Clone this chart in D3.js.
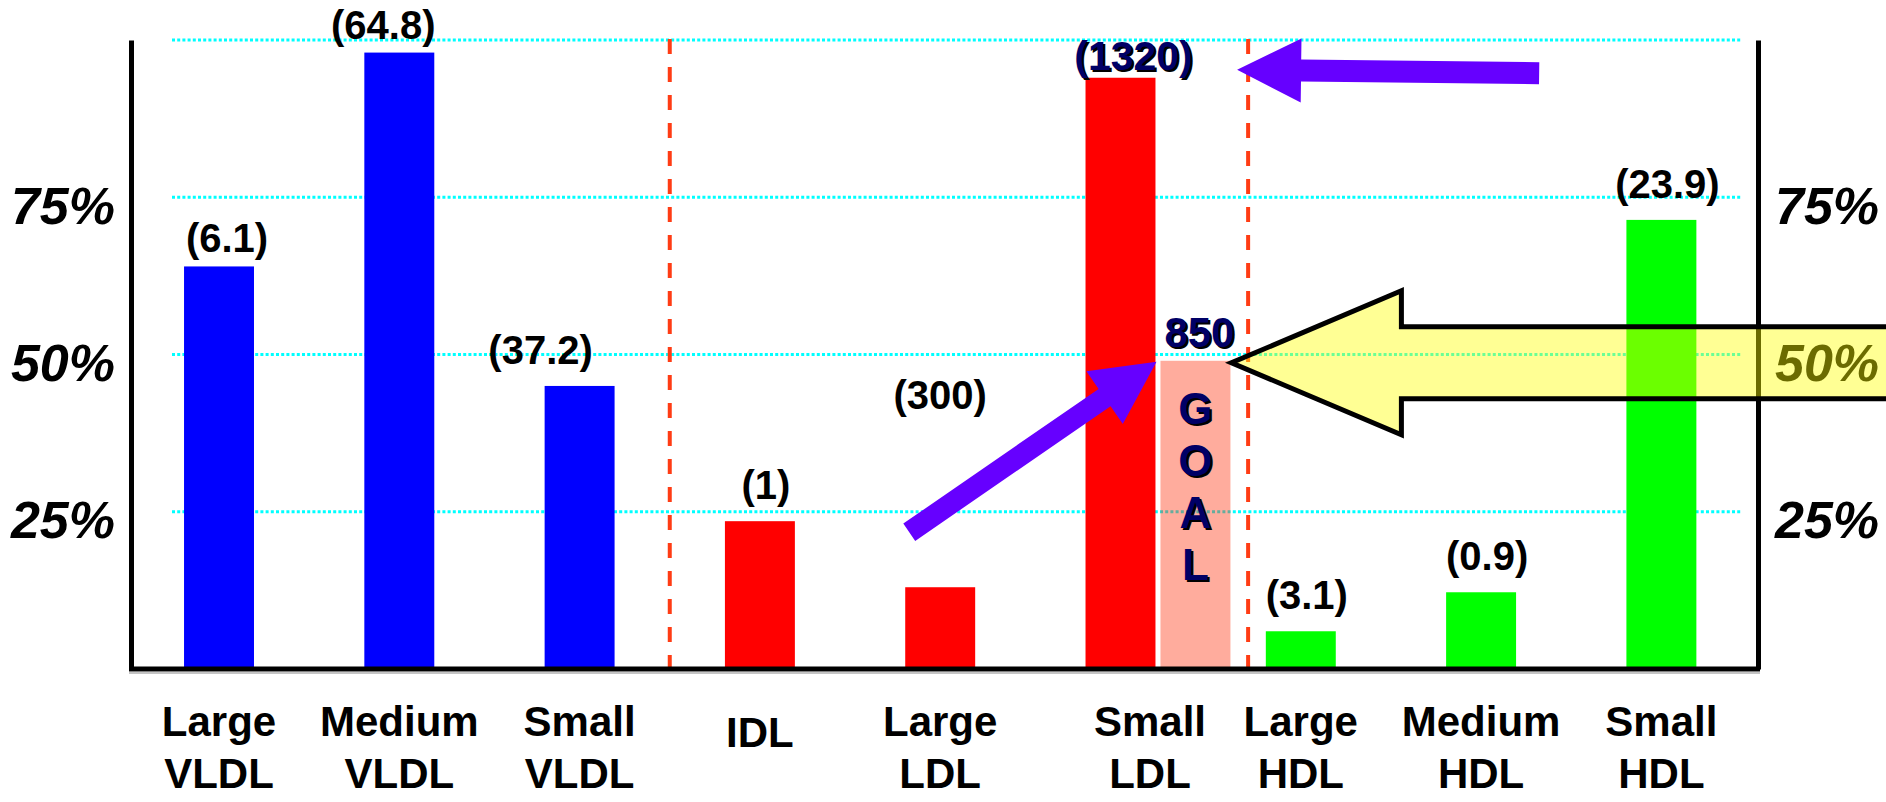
<!DOCTYPE html>
<html>
<head>
<meta charset="utf-8">
<script src="https://cdn.jsdelivr.net/npm/d3@7"></script>
<style>
  html, body { margin: 0; padding: 0; background: #ffffff; }
  svg { display: block; font-family: "Liberation Sans", Arial, sans-serif; }
</style>
</head>
<body>
<svg id="chart" width="1886" height="802"></svg>
<script>
// Lipoprotein subclass profile: bar height = population percentile,
// bracketed number = measured concentration.
const categories = ["Large VLDL", "Medium VLDL", "Small VLDL", "IDL", "Large LDL", "Small LDL", "Large HDL", "Medium HDL", "Small HDL"];
const lipoClass = ["VLDL", "VLDL", "VLDL", "LDL", "LDL", "LDL", "HDL", "HDL", "HDL"];
const percentile = [64, 98, 45, 23.5, 13, 94, 6, 12.2, 71.4];
const concentration = [6.1, 64.8, 37.2, 1, 300, 1320, 3.1, 0.9, 23.9];
const goalCategory = "Small LDL";
const goalPercentile = 49;
const goalValue = 850;
const goalLetters = ["G", "O", "A", "L"];
const percentTicks = [25, 50, 75];
const gridTicks = [25, 50, 75, 100];

// ---- styling / layout ----
const W = 1886, H = 802;
const plot = { left: 131, right: 1758, top: 40, bottom: 669 };
const classColors = { VLDL: "#0000ff", LDL: "#ff0000", HDL: "#00ff00" };
const navy = "#000066";
const purple = "#6600ff";
const dividerColor = "#ff3c14";
const goalFill = "rgb(255,47,10)";

// per-label nudges for the bracketed concentration labels
const labelNudge = {
  "Large VLDL": { dx: 8, dy: 8 },
  "Medium VLDL": { dx: -16, dy: 8 },
  "Small VLDL": { dx: -39, dy: 0 },
  "Large LDL": { dx: 0, dy: -156 },
  "Small LDL": { dx: 13, dy: 14 }
};

const svg = d3.select("#chart");
svg.append("rect").attr("width", W).attr("height", H).attr("fill", "#ffffff");

const x = d3.scaleBand()
  .domain(categories)
  .range([plot.left, plot.right])
  .paddingInner(0.612)
  .paddingOuter(0.318)
  .align(0.4625);
const bw = x.bandwidth();

const y = d3.scaleLinear().domain([0, 100]).range([plot.bottom, plot.top]);

const rows = categories.map((c, i) => ({
  name: c, cls: lipoClass[i], pct: percentile[i], value: concentration[i]
}));

// ---- dotted gridlines ----
svg.append("g").selectAll("line")
  .data(gridTicks)
  .join("line")
  .attr("x1", plot.left + 41)
  .attr("x2", plot.right - 16)
  .attr("y1", d => y(d))
  .attr("y2", d => y(d))
  .attr("stroke", "#00ffff")
  .attr("stroke-width", 3)
  .attr("stroke-dasharray", "3,2.2");

// ---- group dividers (between VLDL | IDL+LDL | HDL) ----
const goalX = x(goalCategory) + bw + 5;
const groupEnds = [];
for (let i = 1; i < rows.length; i++) {
  if (rows[i].cls !== rows[i - 1].cls) {
    let prevRight = x(rows[i - 1].name) + bw;
    if (rows[i - 1].name === goalCategory) prevRight = goalX + bw;
    groupEnds.push((prevRight + x(rows[i].name)) / 2);
  }
}
svg.append("g").selectAll("line")
  .data(groupEnds)
  .join("line")
  .attr("x1", d => d).attr("x2", d => d)
  .attr("y1", y(100) - 1).attr("y2", y(0))
  .attr("stroke", dividerColor)
  .attr("stroke-width", 4)
  .attr("stroke-dasharray", "15,13");

// ---- bars ----
svg.append("g").selectAll("rect")
  .data(rows)
  .join("rect")
  .attr("x", d => x(d.name))
  .attr("y", d => y(d.pct))
  .attr("width", bw)
  .attr("height", d => y(0) - y(d.pct))
  .attr("fill", d => classColors[d.cls]);

// goal bar beside Small LDL (translucent)
svg.append("rect")
  .attr("x", goalX)
  .attr("y", y(goalPercentile))
  .attr("width", bw)
  .attr("height", y(0) - y(goalPercentile))
  .attr("fill", goalFill)
  .attr("fill-opacity", 0.4);

// ---- axes ----
const axisFont = (g) => g.selectAll("text")
  .attr("font-size", 52)
  .attr("font-weight", "bold")
  .attr("font-style", "italic")
  .attr("fill", "#000")
  .attr("dy", "0.5em");

const leftAxis = svg.append("g")
  .attr("transform", `translate(${plot.left},0)`)
  .call(d3.axisLeft(y).tickValues(percentTicks).tickSize(0).tickSizeOuter(0).tickPadding(16).tickFormat(d => d + "%"));
leftAxis.call(axisFont);
leftAxis.select(".domain").attr("stroke", "#000").attr("stroke-width", 5);
leftAxis.attr("font-family", null);

const rightAxis = svg.append("g")
  .attr("transform", `translate(${plot.right},0)`)
  .call(d3.axisRight(y).tickValues(percentTicks).tickSize(0).tickSizeOuter(0).tickPadding(17).tickFormat(d => d + "%"));
rightAxis.call(axisFont);
rightAxis.select(".domain").attr("stroke", "#000").attr("stroke-width", 5);
rightAxis.attr("font-family", null);

// baseline with a faint shadow
svg.append("line")
  .attr("x1", plot.left - 2).attr("x2", plot.right + 2)
  .attr("y1", y(0) + 4).attr("y2", y(0) + 4)
  .attr("stroke", "#c4c4c4").attr("stroke-width", 2);
svg.append("line")
  .attr("x1", plot.left - 2).attr("x2", plot.right + 2)
  .attr("y1", y(0)).attr("y2", y(0))
  .attr("stroke", "#000").attr("stroke-width", 5);

// ---- category labels ----
const catG = svg.append("g")
  .attr("font-size", 42)
  .attr("font-weight", "bold")
  .attr("text-anchor", "middle")
  .attr("fill", "#000");
rows.forEach(d => {
  let cx = x(d.name) + bw / 2;
  if (d.name === goalCategory) cx = (x(d.name) + goalX + bw) / 2 - 8;
  const lines = d.name.split(" ");
  const t = catG.append("text").attr("x", cx).attr("y", lines.length > 1 ? 736 : 747);
  lines.forEach((ln, k) => {
    t.append("tspan").attr("x", cx).attr("dy", k === 0 ? 0 : 52).text(ln);
  });
});

// ---- helper: navy text with a drop shadow ----
function shadowText(parent, txt, px, py, size) {
  const g = parent.append("g")
    .attr("font-size", size)
    .attr("font-weight", "bold")
    .attr("text-anchor", "middle");
  g.append("text").attr("x", px + 2).attr("y", py + 2).attr("fill", "#000").text(txt);
  g.append("text").attr("x", px).attr("y", py).attr("fill", navy).text(txt);
  return g;
}

// ---- concentration labels ----
const valG = svg.append("g");
rows.forEach(d => {
  const n = labelNudge[d.name] || { dx: 6, dy: 0 };
  const lx = x(d.name) + bw / 2 + n.dx;
  const ly = y(d.pct) - 22 + n.dy;
  const txt = "(" + d.value + ")";
  if (d.name === goalCategory) {
    shadowText(valG, txt, lx, ly, 41);
  } else {
    valG.append("text")
      .attr("x", lx).attr("y", ly)
      .attr("text-anchor", "middle")
      .attr("font-size", 40)
      .attr("font-weight", "bold")
      .attr("fill", "#000")
      .text(txt);
  }
});

// goal value and vertical "GOAL"
const goalCx = goalX + bw / 2;
shadowText(valG, String(goalValue), goalCx + 4, y(goalPercentile) - 14, 42);
goalLetters.forEach((ch, k) => {
  shadowText(valG, ch, goalCx, y(goalPercentile) + 63 + k * 52, 44);
});

// ---- block arrows ----
function blockArrow(tail, tip, shaftHalf, headHalf, headLen) {
  const dx = tip[0] - tail[0], dy = tip[1] - tail[1];
  const L = Math.hypot(dx, dy);
  const ux = dx / L, uy = dy / L, nx = -uy, ny = ux;
  const bx = tip[0] - ux * headLen, by = tip[1] - uy * headLen;
  return [
    [tail[0] + nx * shaftHalf, tail[1] + ny * shaftHalf],
    [bx + nx * shaftHalf, by + ny * shaftHalf],
    [bx + nx * headHalf, by + ny * headHalf],
    tip,
    [bx - nx * headHalf, by - ny * headHalf],
    [bx - nx * shaftHalf, by - ny * shaftHalf],
    [tail[0] - nx * shaftHalf, tail[1] - ny * shaftHalf]
  ];
}
const poly = pts => "M" + pts.map(p => p[0].toFixed(1) + "," + p[1].toFixed(1)).join("L") + "Z";

// purple arrow pointing at the Small LDL concentration
const sldlLabelY = y(percentile[categories.indexOf(goalCategory)]) - 8;
const topTip = [groupEnds[1] - 11, sldlLabelY];
svg.append("path")
  .attr("d", poly(blockArrow([topTip[0] + 302, topTip[1] + 3.5], topTip, 11, 32, 64)))
  .attr("fill", purple);

// purple arrow from Large LDL up to the goal
const lldl = "Large LDL";
const diagTail = [x(lldl) + 4, y(percentile[categories.indexOf(lldl)]) - 55];
const diagTip = [goalX - 4, y(goalPercentile) + 1];
svg.append("path")
  .attr("d", poly(blockArrow(diagTail, diagTip, 10.5, 32, 63)))
  .attr("fill", purple);

// large translucent yellow arrow marking the 50th-percentile goal
const yTip = [goalX + bw + 1, y(goalPercentile) + 2];
svg.append("path")
  .attr("d", poly(blockArrow([W + 20, yTip[1]], yTip, 36, 72, 170)))
  .attr("fill", "#ffff00")
  .attr("fill-opacity", 0.42)
  .attr("stroke", "#000")
  .attr("stroke-width", 5)
  .attr("stroke-linejoin", "miter");
</script>
</body>
</html>
